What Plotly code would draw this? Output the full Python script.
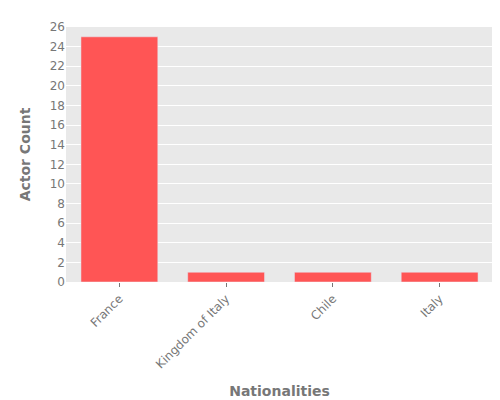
import plotly.graph_objects as go

nationalities = ["France", "Kingdom of Italy", "Chile", "Italy"]
actor_counts  = [25, 1, 1, 1]

fig = go.Figure(go.Bar(x=nationalities, y=actor_counts,
                       marker_color="#ff5555", width=0.72))
fig.update_layout(
    width=500, height=400,
    margin=dict(l=58, r=15, t=12, b=119),
    plot_bgcolor="#e9e9e9", paper_bgcolor="white",
    font=dict(family="DejaVu Sans", size=12, color="#777777"),
    showlegend=False,
)
fig.update_xaxes(title_text="<b>Nationalities</b>", tickangle=-45,
                 title_font=dict(size=14, color="#777777"), ticks="outside",
                 ticklen=4, tickcolor="#777777")
fig.update_yaxes(title_text="<b>Actor Count</b>", range=[0, 26], dtick=2,
                 gridcolor="white", zeroline=False,
                 title_font=dict(size=14, color="#777777"))
fig.write_html("out.html")
